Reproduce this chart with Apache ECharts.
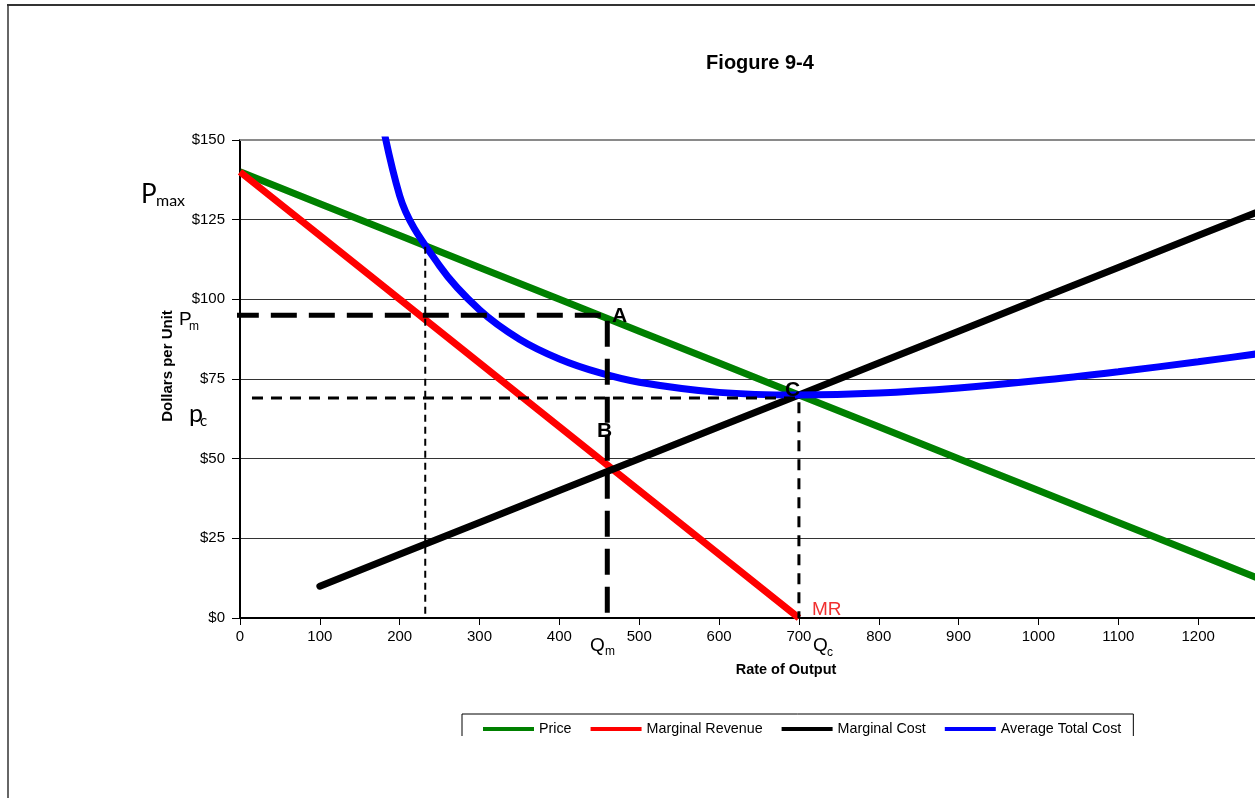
<!DOCTYPE html>
<html>
<head>
<meta charset="utf-8">
<title>Fiogure 9-4</title>
<script src="https://cdn.jsdelivr.net/npm/echarts@6/dist/echarts.min.js"></script>
<style>
  html, body { margin: 0; padding: 0; background: #fff; }
  #chart { width: 1255px; height: 798px; }
</style>
</head>
<body>
<div id="chart"></div>
<script>
// Output levels and curve values (dollars per unit)
const priceQ = [0, 100, 200, 300, 400, 500, 600, 700, 800, 900, 1000, 1100, 1200, 1300];
const priceP = [140, 130, 120, 110, 100, 90, 80, 70, 60, 50, 40, 30, 20, 10];

const mrQ = [0, 100, 200, 300, 400, 500, 600, 700];
const mrP = [140, 120, 100, 80, 60, 40, 20, 0];

const mcQ = [100, 200, 300, 400, 500, 600, 700, 800, 900, 1000, 1100, 1200, 1300];
const mcP = [10, 20, 30, 40, 50, 60, 70, 80, 90, 100, 110, 120, 130];

const atcQ = [150, 200, 250, 300, 350, 400, 450, 500, 600, 700, 800, 900, 1000, 1100, 1200, 1300];
const atcP = [195, 132.5, 110.5, 96.7, 87.5, 81.3, 77, 74, 70.8, 70, 70.6, 72.2, 74.5, 77.3, 80.4, 83.8];

// Key points: monopoly (A), competitive equilibrium (C), price/ATC crossing
const monopolyQ = 460, monopolyP = 95;
const competitiveQ = 700, competitiveP = 69;
const crossQ = 232, crossP = 116.5;
const guideStartQ = -9, thinGuideStartQ = 15;

const yTicks = [0, 25, 50, 75, 100, 125, 150];
const seriesNames = ['Price', 'Marginal Revenue', 'Marginal Cost', 'Average Total Cost'];

const zip = (xs, ys) => xs.map((x, i) => [x, ys[i]]);

const chart = echarts.init(document.getElementById('chart'), null, { renderer: 'canvas' });

const ARIAL = '"Liberation Sans", Arial, sans-serif';
const CAL = 'Lato, "Open Sans", sans-serif';

function txt(text, x, y, font, opts) {
  return Object.assign({
    type: 'text', x: x, y: y, z: 100,
    style: Object.assign({ text: text, font: font, fill: '#000', align: 'left', verticalAlign: 'middle' }, (opts && opts.style) || {})
  }, (opts && opts.el) || {});
}

const option = {
  animation: false,
  backgroundColor: '#fff',
  grid: { left: 240, top: 140, width: 1038, height: 478, containLabel: false, outerBoundsMode: 'none' },
  xAxis: {
    type: 'value', min: 0, max: 1300, interval: 100,
    axisLine: { show: true, onZero: false, lineStyle: { color: '#000', width: 2 } },
    axisTick: { show: true, length: 7, lineStyle: { color: '#000', width: 1 } },
    axisLabel: { margin: 11, color: '#000', fontSize: 15, fontFamily: ARIAL, formatter: v => String(v) },
    splitLine: { show: false }
  },
  yAxis: {
    type: 'value', min: yTicks[0], max: yTicks[yTicks.length - 1], interval: 25,
    axisLine: { show: true, onZero: false, lineStyle: { color: '#000', width: 2 } },
    axisTick: { show: true, length: 8, lineStyle: { color: '#000', width: 1 } },
    axisLabel: { margin: 15, color: '#000', fontSize: 15, fontFamily: ARIAL, formatter: v => '$' + v },
    splitLine: { show: true, lineStyle: { color: ['#000', '#333', '#333', '#333', '#333', '#333', '#8a8a8a'], width: 1 } }
  },
  legend: {
    data: seriesNames,
    left: 462, top: 714,
    padding: [8, 12, 10, 21],
    itemGap: 19,
    itemWidth: 51, itemHeight: 4,
    icon: 'rect',
    borderColor: '#000', borderWidth: 1,
    textStyle: { color: '#000', fontSize: 14.3, fontFamily: ARIAL }
  },
  series: [
    {
      name: 'Price', type: 'line', data: zip(priceQ, priceP), showSymbol: false, symbol: 'none',
      lineStyle: { color: '#008000', width: 7 }, itemStyle: { color: '#008000' }, z: 2,
      markLine: {
        silent: true, symbol: 'none', label: { show: false },
        lineStyle: { color: '#8a8a8a', width: 2, type: 'solid' },
        data: [{ yAxis: yTicks[yTicks.length - 1] }]
      }
    },
    {
      name: 'Marginal Revenue', type: 'line', data: zip(mrQ, mrP), showSymbol: false, symbol: 'none',
      lineStyle: { color: '#ff0000', width: 7 }, itemStyle: { color: '#ff0000' }, z: 3
    },
    {
      name: 'Marginal Cost', type: 'line', data: zip(mcQ, mcP), showSymbol: false, symbol: 'none',
      lineStyle: { color: '#000', width: 7, cap: 'round' }, itemStyle: { color: '#000' }, z: 4
    },
    {
      name: 'Average Total Cost', type: 'line', data: zip(atcQ, atcP), showSymbol: false, symbol: 'none',
      smooth: 0.35, clip: true,
      lineStyle: { color: '#0000ff', width: 7 }, itemStyle: { color: '#0000ff' }, z: 5
    },
    // Monopoly price Pm across to A, then down to Qm
    {
      name: 'monopoly guide', type: 'line', symbol: 'none', clip: false, z: 6, silent: true,
      data: [[guideStartQ, monopolyP], [monopolyQ, monopolyP], [monopolyQ, 0]],
      lineStyle: { color: '#000', width: 5, type: [26, 12] }
    },
    // Competitive price pc across to C, then down to Qc
    {
      name: 'competitive guide', type: 'line', symbol: 'none', clip: false, z: 6, silent: true,
      data: [[thinGuideStartQ, competitiveP], [competitiveQ, competitiveP], [competitiveQ, 0]],
      lineStyle: { color: '#000', width: 3, type: [11, 8] }
    },
    // Drop from where price meets average total cost
    {
      name: 'crossing guide', type: 'line', symbol: 'none', z: 6, silent: true,
      data: [[crossQ, crossP], [crossQ, 0]],
      lineStyle: { color: '#000', width: 2, type: [7, 5] }
    }
  ],
  graphic: [
    // chart frame
    { type: 'line', z: 200, shape: { x1: 7, y1: 5, x2: 1255, y2: 5 }, style: { stroke: '#333', lineWidth: 2 } },
    // lower band is blank below the legend's first row
    { type: 'rect', z: 150, shape: { x: 8, y: 736, width: 1247, height: 62 }, style: { fill: '#fff' } },
    { type: 'line', z: 200, shape: { x1: 8, y1: 5, x2: 8, y2: 798 }, style: { stroke: '#333', lineWidth: 1.5 } },

    txt('Fiogure 9-4', 760, 63, 'bold 20px ' + ARIAL, { style: { align: 'center' } }),
    txt('Dollars per Unit', 168, 366, 'bold 15px ' + ARIAL, { style: { align: 'center' }, el: { rotation: Math.PI / 2 } }),
    txt('Rate of Output', 786, 670, 'bold 14.5px ' + ARIAL, { style: { align: 'center' } }),

    txt('P', 141, 195, '26px ' + CAL),
    txt('max', 156, 201, '16px ' + CAL),
    txt('P', 179, 320, '19px ' + ARIAL),
    txt('m', 189, 327, '12px ' + ARIAL),
    txt('p', 189, 414, '25px ' + CAL),
    txt('c', 200, 421, '15px ' + CAL),

    txt('A', 612, 316, 'bold 21px ' + ARIAL),
    txt('B', 597, 431, 'bold 21px ' + ARIAL),
    txt('C', 785, 390, 'bold 21px ' + ARIAL),
    txt('MR', 812, 610, '19px ' + ARIAL, { style: { fill: '#f03030' } }),

    txt('Q', 590, 646, '19px ' + ARIAL),
    txt('m', 605, 652, '12px ' + ARIAL),
    txt('Q', 813, 646, '19px ' + ARIAL),
    txt('c', 827, 653, '12px ' + ARIAL)
  ]
};

chart.setOption(option);
</script>
</body>
</html>
